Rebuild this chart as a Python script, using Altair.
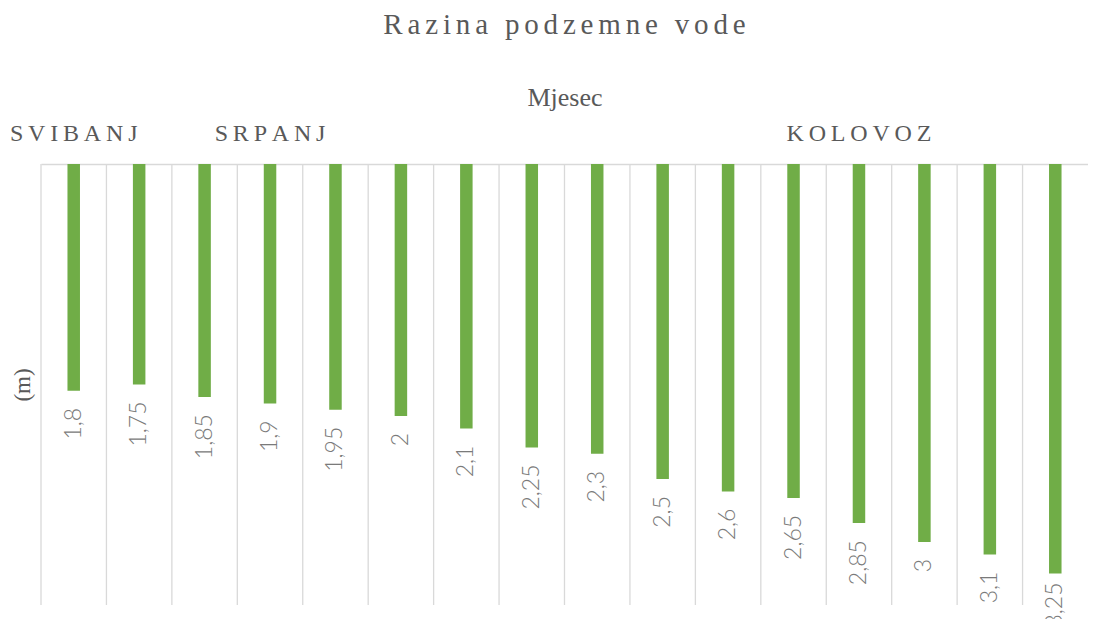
import json
import altair as alt
import pandas as pd

# ---- data ----
kategorije = list(range(16))
mjeseci = ["SVIBANJ", "", "", "SRPANJ", "", "", "", "", "", "", "", "",
           "KOLOVOZ", "", "", ""]
razina = [1.8, 1.75, 1.85, 1.9, 1.95, 2.0, 2.1, 2.25, 2.3, 2.5, 2.6, 2.65,
          2.85, 3.0, 3.1, 3.25]
naslov = "Razina podzemne vode"
naslov_x = "Mjesec"
naslov_y = "(m)"


def razmak(s, sep="\u2009"):
    return sep.join(s) if s else s


def oznaka(v):
    return ("%g" % v).replace(".", ",")


df = pd.DataFrame({
    "idx": kategorije,
    "razina": razina,
    "oznaka": [oznaka(v) for v in razina],
})
zadnji = kategorije[-1]

label_arr = "[" + ",".join(json.dumps(razmak(m), ensure_ascii=False) for m in mjeseci) + "]"

SERIF = "Liberation Serif"
GREY = "#595959"

x_axis = alt.Axis(
    orient="top", title=naslov_x, labelExpr=label_arr + "[datum.value]",
    labelAngle=0, ticks=False, tickSize=0, grid=False,
    domainColor="#d9d9d9", domainWidth=1.5,
    labelFont=SERIF, labelFontSize=24, labelColor=GREY,
    labelBaseline="alphabetic", labelPadding=24, labelOverlap=False,
    labelFlush=False,
    titleFont=SERIF, titleFontSize=26, titleColor=GREY, titleFontWeight="normal",
    titleBaseline="alphabetic", titleY=-59,
)
x_scale = alt.Scale(paddingInner=0, paddingOuter=0)
y_scale = alt.Scale(domain=[0, 3.5], reverse=True, nice=False, zero=True)

y_enc = alt.Y(
    "razina:Q", scale=y_scale,
    axis=alt.Axis(title=naslov_y, labels=False, ticks=False, domain=False,
                  grid=False, titleFont=SERIF, titleFontSize=23,
                  titleColor=GREY, titleFontWeight="normal",
                  titleBaseline="middle", titleX=-19, titleAngle=270),
)

base = alt.Chart(df)

mreza = base.mark_rule(color="#d9d9d9", strokeWidth=1.3).encode(
    x=alt.X("idx:O", bandPosition=0, scale=x_scale, axis=x_axis),
)

stupci = base.mark_bar(color="#70AD47", size=12.5).encode(
    x=alt.X("idx:O", scale=x_scale, axis=x_axis),
    y=y_enc,
)

text_style = dict(angle=270, align="right", baseline="middle",
                  font="Lato", fontSize=23, fontWeight=300, color="#7a7a7a")
text_enc = dict(
    x=alt.X("idx:O", scale=x_scale, axis=x_axis),
    y=alt.Y("razina:Q", scale=y_scale),
    text="oznaka:N",
)

oznake = base.transform_filter(f"datum.idx != {zadnji}").mark_text(
    dx=-17, **text_style).encode(**text_enc)
# the last label sits closer to its bar so that it fits in the chart area
oznaka_zadnja = base.transform_filter(f"datum.idx == {zadnji}").mark_text(
    dx=-9, **text_style).encode(**text_enc)

chart = alt.layer(mreza, stupci, oznake, oznaka_zadnja).properties(
    width=1047, height=441,
    autosize=alt.AutoSizeParams(type="none"),
    padding={"left": 33, "top": 156, "right": 0, "bottom": 14},
    title=alt.TitleParams(
        razmak(naslov, "\u2006"), font=SERIF, fontSize=29, color=GREY,
        fontWeight="normal", anchor="middle", frame="group", offset=44,
    ),
).configure_view(strokeWidth=0)

chart.save("out.html", embed_options={"renderer": "svg", "actions": False})
